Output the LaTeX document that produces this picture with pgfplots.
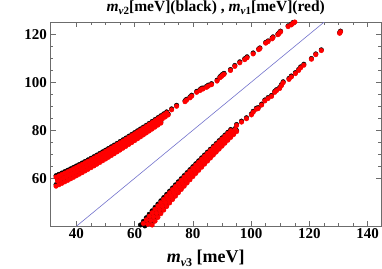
\documentclass[border=0pt]{standalone}
\usepackage{fontspec}
\setmainfont{Liberation Serif}
\usepackage{pgfplots}
\usepackage{pgfplotstable}
\pgfplotsset{compat=1.18}
\definecolor{diagblue}{rgb}{0.45,0.45,0.80}
\newcommand{\subt}[1]{\raisebox{-0.4ex}{\fontsize{11}{11}\selectfont #1}}
\newcommand{\subx}[1]{\raisebox{-0.4ex}{\fontsize{12}{12}\selectfont #1}}

% upper band: x = m_nu3, m2 (black), m1 (red)
\pgfplotstableread{
x m2 m1
33 57.35 56.70
34 57.93 57.28
35 58.52 57.88
36 59.13 58.50
37 59.74 59.11
38 60.37 59.75
39 61.00 60.39
40 61.64 61.03
41 62.30 61.70
42 62.96 62.36
43 63.63 63.04
44 64.31 63.73
45 65.00 64.42
46 65.70 65.13
47 66.40 65.84
48 67.11 66.55
49 67.83 67.28
50 68.56 68.01
51 69.29 68.75
52 70.03 69.49
53 70.77 70.24
54 71.53 71.01
55 72.28 71.76
56 73.05 72.54
57 73.82 73.31
58 74.59 74.09
59 75.37 74.87
60 76.16 75.67
61 76.95 76.46
62 77.74 77.26
63 78.54 78.06
64 79.35 78.88
65 80.16 79.69
66 80.97 80.51
67 81.79 81.33
68 82.61 82.16
69 83.43 82.98
33.5 59.52 58.89
34.5 60.09 59.47
35.5 60.67 60.05
36.5 61.26 60.65
37.5 61.86 61.25
38.5 62.47 61.87
39.5 63.09 62.50
40.5 63.72 63.13
41.5 64.36 63.78
42.5 65.01 64.43
43.5 65.67 65.10
44.5 66.33 65.76
45.5 67.01 66.45
46.5 67.69 67.14
47.5 68.38 67.83
48.5 69.08 68.54
49.5 69.79 69.25
50.5 70.50 69.97
51.5 71.22 70.69
52.5 71.95 71.43
53.5 72.68 72.16
54.5 73.42 72.91
55.5 74.16 73.65
56.5 74.92 74.42
57.5 75.67 75.17
58.5 76.43 75.94
59.5 77.20 76.71
60.5 77.98 77.50
61.5 78.75 78.27
62.5 79.54 79.07
63.5 80.33 79.86
64.5 81.12 80.66
65.5 81.92 81.46
66.5 82.72 82.27
67.5 83.52 83.07
68.5 84.33 83.89
69.5 85.15 84.71
70.5 85.97 85.53
71.5 86.79 86.36
33 61.07 60.46
34 61.61 61.00
35 62.17 61.57
36 62.74 62.14
37 63.32 62.73
38 63.91 63.32
39 64.51 63.93
40 65.12 64.54
41 65.73 65.16
42 66.36 65.79
43 67.00 66.44
44 67.65 67.10
45 68.30 67.75
46 68.96 68.42
47 69.63 69.09
48 70.31 69.78
49 71.00 70.47
50 71.69 71.17
51 72.39 71.87
52 73.10 72.59
53 73.82 73.31
54 74.54 74.04
55 75.27 74.77
56 76.00 75.51
57 76.74 76.25
58 77.49 77.01
59 78.24 77.76
60 78.99 78.52
61 79.76 79.29
62 80.52 80.05
63 81.30 80.84
64 82.07 81.61
65 82.86 82.41
66 83.64 83.19
67 84.43 83.99
68 85.23 84.79
69 86.03 85.59
70 86.83 86.40
71 87.64 87.21
72.7 88.9 88.5
74.4 90.4 90.0
77.3 92.3 91.9
77.8 92.9 92.5
79.0 93.9 93.5
79.6 94.6 94.2
81.3 96.2 95.8
82.4 96.9 96.5
83.0 97.5 97.1
83.5 97.6 97.2
84.7 98.3 97.9
85.3 98.8 98.4
86.4 99.4 99.0
88.3 100.9 100.5
89.3 102.3 101.9
89.8 102.8 102.4
90.2 103.3 102.9
90.7 103.7 103.3
92.9 105.3 104.9
94.4 107.0 106.6
96.1 108.5 108.1
97.8 109.8 109.4
98.6 110.6 110.2
100.7 112.2 111.8
102.6 113.9 113.6
103.0 114.3 114.0
105.0 116.6 116.3
105.8 117.2 116.9
107.2 118.4 118.1
107.5 118.9 118.6
109.2 120.1 119.8
109.6 120.6 120.3
110.1 121.3 121.0
112.7 123.5 123.2
113.8 124.2 123.9
114.4 124.9 124.6
115.0 125.4 125.1
}\upperband

% lower band
\pgfplotstableread{
x m2 m1
61.5 39.78 38.83
62 40.55 39.63
63 42.06 41.17
64 43.54 42.68
65 45.00 44.17
66 46.43 45.62
67 47.84 47.05
68 49.23 48.46
69 50.61 49.87
70 51.96 51.24
71 53.30 52.60
72 54.63 53.94
73 55.94 55.27
74 57.24 56.58
75 58.52 57.88
76 59.80 59.17
77 61.07 60.46
78 62.32 61.72
79 63.57 62.98
80 64.81 64.23
81 66.04 65.47
82 67.26 66.70
83 68.48 67.93
84 69.69 69.15
85 70.89 70.36
86 72.08 71.56
87 73.27 72.76
88 74.46 73.96
89 75.64 75.14
90 76.81 76.32
91 77.98 77.50
92 79.15 78.68
93 80.31 79.84
63.5 40.15 39.21
64.5 41.72 40.82
65.5 43.25 42.38
66.5 44.75 43.91
67.5 46.22 45.41
68.5 47.67 46.88
69.5 49.09 48.33
70.5 50.50 49.76
71.5 51.89 51.17
72.5 53.26 52.55
73.5 54.61 53.92
74.5 55.95 55.28
75.5 57.27 56.62
76.5 58.59 57.95
77.5 59.89 59.26
78.5 61.17 60.56
79.5 62.45 61.85
80.5 63.72 63.13
81.5 64.98 64.40
82.5 66.23 65.66
83.5 67.47 66.91
84.5 68.70 68.15
85.5 69.93 69.39
86.5 71.15 70.62
87.5 72.36 71.84
88.5 73.57 73.06
89.5 74.77 74.27
90.5 75.96 75.47
91.5 77.15 76.66
92.5 78.33 77.85
93.5 79.51 79.04
94.5 80.69 80.23
65 39.81 38.86
66 41.42 40.51
67 43.00 42.13
68 44.54 43.70
69 46.05 45.24
70 47.54 46.75
71 49.00 48.23
72 50.44 49.70
73 51.86 51.14
74 53.25 52.55
75 54.64 53.95
76 56.00 55.33
77 57.35 56.70
78 58.69 58.05
79 60.01 59.38
80 61.32 60.71
81 62.62 62.02
82 63.91 63.32
83 65.18 64.60
84 66.45 65.89
85 67.71 67.16
86 68.96 68.42
87 70.21 69.68
88 71.44 70.92
89 72.67 72.15
90 73.89 73.38
91 75.11 74.61
92 76.32 75.83
93 77.52 77.04
94 78.71 78.23
95 79.91 79.44
95.0 82.4 82.0
96.7 83.8 83.4
98.4 85.2 84.8
100.1 86.8 86.4
100.7 87.9 87.5
101.8 89.2 88.8
102.4 89.4 89.0
103.6 90.9 90.5
104.7 92.6 92.2
105.8 93.6 93.2
107.0 94.5 94.1
108.1 96.2 95.8
108.7 96.9 96.5
109.8 97.8 97.4
110.4 99.0 98.6
111.0 100.2 99.8
113.0 101.6 101.2
113.8 102.6 102.2
115.2 104.0 103.6
116.3 105.3 104.9
117.0 106.4 106.0
118.1 107.5 107.1
120.7 109.9 109.6
122.2 111.8 111.5
124.1 113.5 113.2
130.4 120.7 120.4
130.7 121.3 121.0
135.5 126.2 125.9
}\lowerband

\begin{document}
\begin{tikzpicture}
\begin{axis}[
  name=ax,
  width=330.5pt, height=204pt, scale only axis,
  xmin=31.1, xmax=144.6, ymin=40.1, ymax=125.1,
  xtick={40,60,...,140}, ytick={60,80,100,120},
  minor x tick num=3, minor y tick num=3,
  tick align=inside,
  major tick length=5pt, minor tick length=3pt,
  axis line style={gray!85!black, line width=0.5pt},
  tick style={gray!85!black, line width=0.5pt},
  /pgf/number format/assume math mode=true,
  ticklabel style={font=\fontsize{15}{15}\selectfont\bfseries, text=black},
  xticklabel style={yshift=1pt},
  title={\bfseries\textit{m}\subt{\textit{ν}2}[meV](black) , \textit{m}\subt{\textit{ν}1}[meV](red)},
  title style={at={(0.5,1)}, anchor=base, yshift=4.5pt, font=\fontsize{15.5}{15.5}\selectfont},
  xlabel={\bfseries\textit{m}\subx{\textit{ν}3} [meV]},
  xlabel style={at={(0.5,0)}, anchor=base, yshift=-37pt, xshift=-10pt, font=\fontsize{18}{18}\selectfont},
]
\addplot[diagblue, line width=0.6pt] coordinates {(30,30) (130,130)};
\addplot[only marks, mark=*, mark size=2.3pt, black] table[x=x, y=m2] {\upperband};
\addplot[only marks, mark=*, mark size=2.3pt, black] table[x=x, y=m2] {\lowerband};
\addplot[only marks, mark=*, mark size=2.3pt, red] table[x=x, y=m1] {\upperband};
\addplot[only marks, mark=*, mark size=2.3pt, red] table[x=x, y=m1] {\lowerband};
\end{axis}
\pgfresetboundingbox
\path[use as bounding box] ([xshift=-50.5pt,yshift=-43pt]ax.south west) rectangle ([xshift=1pt,yshift=22pt]ax.north east);
\end{tikzpicture}
\end{document}
